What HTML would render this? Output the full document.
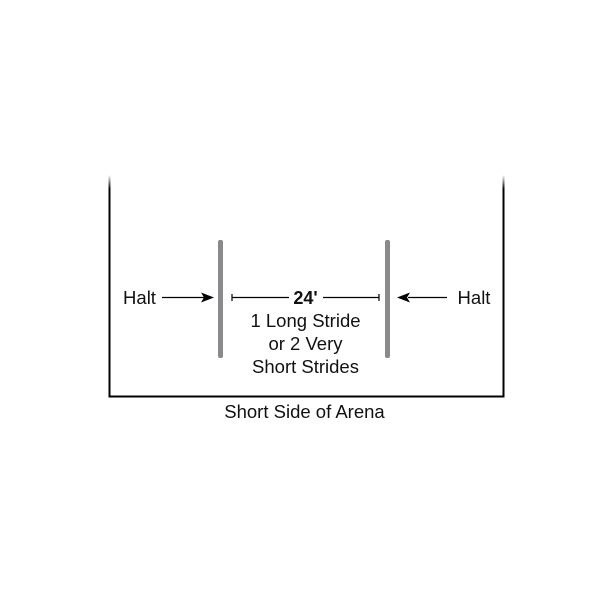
<!DOCTYPE html>
<html><head><style>body{margin:0;background:#fff}</style></head><body>
<svg width="600" height="600" xmlns="http://www.w3.org/2000/svg" font-family="Liberation Sans, sans-serif">
<defs><linearGradient id="f" x1="0" y1="0" x2="0" y2="1"><stop offset="0" stop-color="#000" stop-opacity="0"/><stop offset="1" stop-color="#000"/></linearGradient></defs>
<rect x="108.5" y="175" width="2" height="14" fill="url(#f)"/>
<rect x="502.5" y="175" width="2" height="14" fill="url(#f)"/>
<path d="M109.5 189 V396.5 H503.5 V189" fill="none" stroke="#000" stroke-width="2"/>
<rect x="218" y="240" width="5" height="118" rx="2" fill="#8a8a8c"/>
<rect x="385" y="240" width="5" height="118" rx="2" fill="#8a8a8c"/>
<g stroke="#000" stroke-width="1.2">
<line x1="162" y1="297.5" x2="205" y2="297.5"/>
<line x1="408" y1="297.5" x2="447" y2="297.5"/>
<line x1="232" y1="297.5" x2="289" y2="297.5"/>
<line x1="323" y1="297.5" x2="379" y2="297.5"/>
<line x1="232" y1="294" x2="232" y2="301"/>
<line x1="379" y1="294" x2="379" y2="301"/>
</g>
<polygon points="214,297.5 201,292.5 204,297.5 201,302.5" fill="#000"/>
<polygon points="397,297.5 410,292.5 407,297.5 410,302.5" fill="#000"/>
<g font-size="18.5" fill="#111" text-anchor="middle">
<text x="139.5" y="304">Halt</text>
<text x="474" y="304">Halt</text>
<text x="305.5" y="304" font-weight="bold" font-size="18">24'</text>
<text x="305.5" y="327">1 Long Stride</text>
<text x="305.5" y="350">or 2 Very</text>
<text x="305.5" y="373">Short Strides</text>
<text x="304.5" y="418">Short Side of Arena</text>
</g>
</svg>
</body></html>
